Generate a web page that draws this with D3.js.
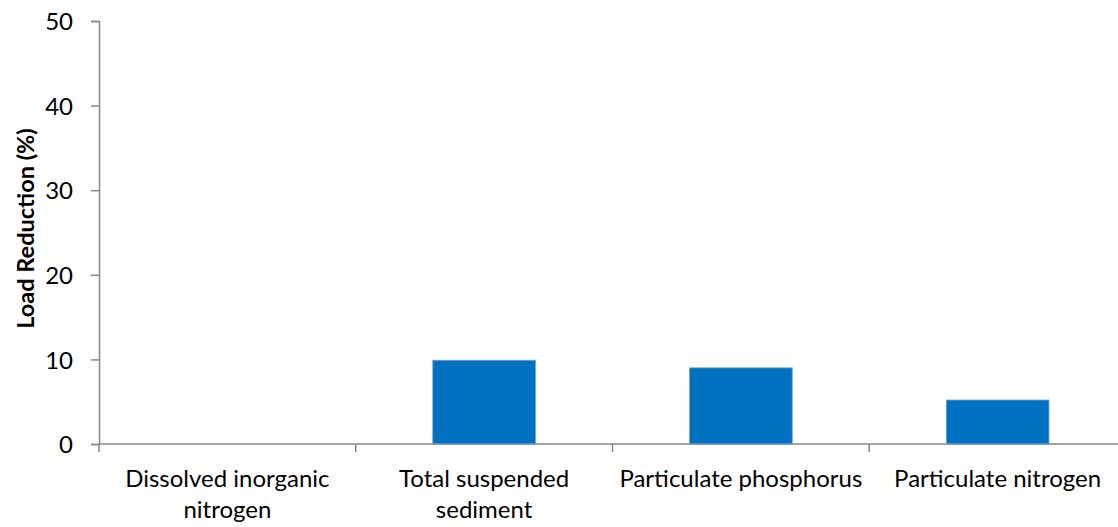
<!DOCTYPE html>
<html>
<head>
<meta charset="utf-8">
<script src="https://cdn.jsdelivr.net/npm/d3@7"></script>
<style>
  html, body { margin: 0; padding: 0; background: #fff; }
  svg text { font-family: Lato, "Open Sans", sans-serif; fill: #000; }
</style>
</head>
<body>
<svg id="chart" width="1118" height="527"></svg>
<script>
const categories = [
  ["Dissolved inorganic", "nitrogen"],
  ["Total suspended", "sediment"],
  ["Particulate phosphorus"],
  ["Particulate nitrogen"]
];
const values = [0, 9.9, 9.0, 5.2];
const yTicks = [0, 10, 20, 30, 40, 50];
const yLabel = "Load Reduction (%)";

const svg = d3.select("#chart");
const mLeft = 99, mRight = 1126, mTop = 21, mBottom = 444;

const x = d3.scaleBand().domain(d3.range(categories.length)).range([mLeft, mRight]).paddingInner(0.6).paddingOuter(0.3);
const y = d3.scaleLinear().domain([0, 50]).range([mBottom, mTop]);

const axisColor = "#868686";

// bars
svg.selectAll("rect.bar").data(values).enter().append("rect")
  .attr("class", "bar")
  .attr("x", (d, i) => x(i))
  .attr("width", x.bandwidth())
  .attr("y", d => y(d))
  .attr("height", d => y(0) - y(d))
  .attr("fill", "#0070C0")
  .attr("stroke", "#6aa5dc")
  .attr("stroke-width", 0.8);

// y axis
const yAxis = d3.axisLeft(y).tickValues(yTicks).tickSize(8).tickPadding(18);
const gy = svg.append("g").attr("transform", `translate(${mLeft},0)`).call(yAxis);
gy.select(".domain").attr("stroke", axisColor).attr("stroke-width", 1.5);
gy.selectAll(".tick line").attr("stroke", axisColor).attr("stroke-width", 1.5);
gy.selectAll(".tick text").style("font-size", "24px").attr("fill", "#000").attr("dy", "0.36em");

// x axis
const xOuter = d3.scaleLinear().domain([0, categories.length]).range([mLeft, mRight]);
svg.append("line")
  .attr("x1", mLeft).attr("x2", mRight).attr("y1", mBottom).attr("y2", mBottom)
  .attr("stroke", axisColor).attr("stroke-width", 1.5);
svg.selectAll("line.xtick").data(d3.range(categories.length + 1)).enter().append("line")
  .attr("class", "xtick")
  .attr("x1", d => xOuter(d)).attr("x2", d => xOuter(d))
  .attr("y1", mBottom).attr("y2", mBottom + 8)
  .attr("stroke", axisColor).attr("stroke-width", 1.5);

// x labels
const lbl = svg.selectAll("text.xlab").data(categories).enter().append("text")
  .attr("class", "xlab")
  .attr("text-anchor", "middle")
  .attr("x", (d, i) => x(i) + x.bandwidth() / 2)
  .attr("y", 487)
  .style("font-size", "24px");
lbl.each(function(d) {
  const t = d3.select(this);
  d.forEach((line, j) => {
    t.append("tspan").attr("x", t.attr("x")).attr("dy", j === 0 ? 0 : 31).text(line);
  });
});

// y label
svg.append("text")
  .attr("transform", `translate(34, 228.5) rotate(-90)`)
  .attr("text-anchor", "middle")
  .style("font-size", "23.5px")
  .style("font-weight", "bold")
  .text(yLabel);
</script>
</body>
</html>
